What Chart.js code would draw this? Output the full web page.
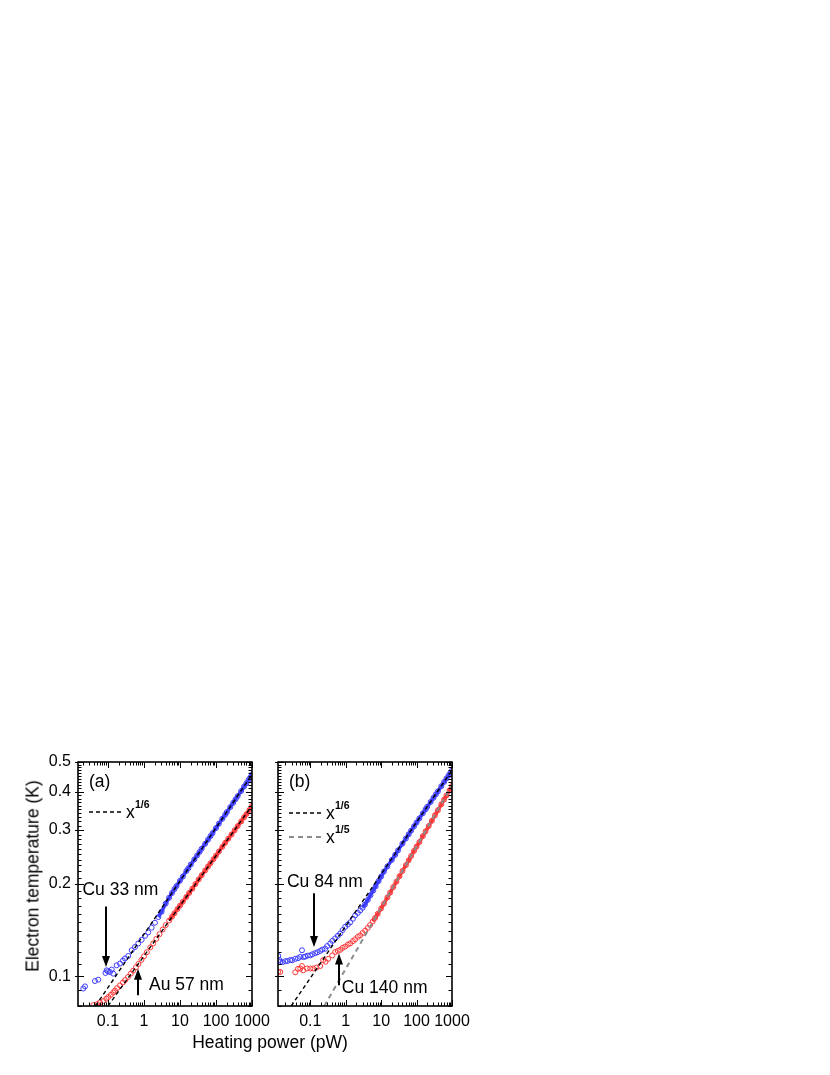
<!DOCTYPE html>
<html>
<head>
<meta charset="utf-8">
<script src="https://cdn.jsdelivr.net/npm/chart.js@4.4.1/dist/chart.umd.min.js"></script>
<style>
  html, body { margin: 0; padding: 0; background: #fff; }
  body { width: 830px; height: 1075px; position: relative; overflow: hidden; font-family: 'Liberation Sans', Arial, sans-serif; }
  .panel { position: absolute; top: 740px; height: 300px; }
  #panelA { left: 0; width: 280px; }
  #panelB { left: 262px; width: 218px; }
  .axis-title { position: absolute; font-size: 17.5px; color: #000; white-space: nowrap; }
  #yTitle { left: 33px; top: 876px; transform: translate(-50%, -50%) rotate(-90deg); }
  #xTitle { left: 270px; top: 1042px; transform: translate(-50%, -50%); }
</style>
</head>
<body>
<div class="panel" id="panelA"><canvas id="chartA" width="280" height="300"></canvas></div>
<div class="panel" id="panelB"><canvas id="chartB" width="218" height="300"></canvas></div>
<div class="axis-title" id="yTitle">Electron temperature (K)</div>
<div class="axis-title" id="xTitle">Heating power (pW)</div>
<script>
// --- Data (power in pW, temperature in K) ---
const xTicks = [0.1, 1, 10, 100, 1000];
const xTickLabels = ['0.1', '1', '10', '100', '1000'];
const yTicks = [0.1, 0.2, 0.3, 0.4, 0.5];
const yTickLabels = ['0.1', '0.2', '0.3', '0.4', '0.5'];

// (a) Cu 33 nm
const powerCu33 = [0.0206, 0.023, 0.0435, 0.0538, 0.085, 0.092, 0.1, 0.1137, 0.127, 0.14, 0.174, 0.215, 0.26, 0.297, 0.366, 0.455, 0.562, 0.695, 0.86, 1.07, 1.31, 1.63, 2.02, 2.5, 3.1, 4, 5, 6, 7, 8, 10, 12, 15, 17, 20, 25, 30, 35, 40, 50, 60, 70, 80, 100, 120, 150, 180, 200, 250, 300, 350, 400, 500, 600, 700, 800, 900, 1000];
const tempCu33 = [0.0912, 0.0927, 0.0965, 0.0975, 0.1025, 0.1046, 0.1038, 0.1033, 0.1052, 0.102, 0.1086, 0.110, 0.1125, 0.1143, 0.1165, 0.1216, 0.1246, 0.128, 0.1315, 0.1355, 0.139, 0.144, 0.1495, 0.156, 0.1625, 0.1725, 0.1805, 0.187, 0.1925, 0.197, 0.205, 0.2115, 0.2205, 0.225, 0.2315, 0.2405, 0.248, 0.2545, 0.2605, 0.2705, 0.279, 0.2865, 0.293, 0.3045, 0.3145, 0.3265, 0.3365, 0.343, 0.3565, 0.368, 0.378, 0.387, 0.402, 0.4155, 0.4265, 0.437, 0.446, 0.4555];

// (a) Au 57 nm
const powerAu57 = [0.039, 0.05, 0.06, 0.075, 0.09, 0.102, 0.12, 0.14, 0.156, 0.18, 0.215, 0.26, 0.3, 0.36, 0.43, 0.5, 0.6, 0.7, 0.85, 1, 1.2, 1.5, 1.8, 2.2, 2.7, 3.3, 4, 5, 6, 7, 8.5, 10, 12, 15, 18, 22, 27, 33, 40, 50, 60, 70, 85, 100, 120, 150, 180, 220, 270, 330, 400, 500, 600, 700, 850, 1000];
const tempAu57 = [0.0805, 0.0812, 0.0822, 0.083, 0.0845, 0.0856, 0.087, 0.0885, 0.0898, 0.0915, 0.0934, 0.0955, 0.0972, 0.0995, 0.102, 0.1043, 0.107, 0.1097, 0.1132, 0.1162, 0.1198, 0.1243, 0.128, 0.1325, 0.1372, 0.142, 0.1468, 0.152, 0.1565, 0.1605, 0.1658, 0.170, 0.175, 0.1815, 0.187, 0.193, 0.200, 0.207, 0.2135, 0.2215, 0.228, 0.2337, 0.241, 0.2475, 0.255, 0.2645, 0.2725, 0.281, 0.290, 0.2995, 0.309, 0.320, 0.330, 0.338, 0.349, 0.360];

// (b) Cu 84 nm
const powerCu84 = [0.0125, 0.0135, 0.0143, 0.0165, 0.0198, 0.023, 0.0273, 0.031, 0.0378, 0.045, 0.0523, 0.0584, 0.065, 0.0723, 0.085, 0.1, 0.115, 0.138, 0.16, 0.191, 0.22, 0.264, 0.3, 0.366, 0.42, 0.506, 0.6, 0.7, 0.82, 0.967, 1.15, 1.34, 1.6, 1.85, 2.2, 2.56, 3, 3.5, 4.2, 5, 6, 7, 8.5, 10, 12, 15, 20, 25, 30, 40, 50, 60, 70, 85, 100, 120, 150, 180, 200, 250, 300, 350, 400, 500, 600, 700, 800, 900, 1000];
const tempCu84 = [0.1165, 0.113, 0.1114, 0.1112, 0.112, 0.1122, 0.113, 0.1128, 0.114, 0.1145, 0.1157, 0.1216, 0.1155, 0.116, 0.1168, 0.117, 0.118, 0.119, 0.1198, 0.121, 0.1222, 0.123, 0.1255, 0.128, 0.1305, 0.133, 0.1355, 0.138, 0.1415, 0.145, 0.1475, 0.150, 0.154, 0.158, 0.161, 0.164, 0.1672, 0.1715, 0.1775, 0.1838, 0.1905, 0.1965, 0.2045, 0.2115, 0.2195, 0.2283, 0.2397, 0.249, 0.2575, 0.2709, 0.2814, 0.2905, 0.2985, 0.3085, 0.3174, 0.3275, 0.340, 0.3505, 0.357, 0.3705, 0.382, 0.392, 0.401, 0.417, 0.4305, 0.442, 0.452, 0.461, 0.4695];

// (b) Cu 140 nm
const powerCu140 = [0.0125, 0.0143, 0.0378, 0.045, 0.0523, 0.0584, 0.0635, 0.0807, 0.1, 0.121, 0.15, 0.191, 0.232, 0.27, 0.321, 0.417, 0.506, 0.6, 0.7, 0.82, 0.967, 1.15, 1.34, 1.6, 1.85, 2.2, 2.56, 3, 3.54, 4.2, 4.89, 5.8, 6.76, 8, 10, 12, 15, 18, 22, 27, 33, 40, 50, 60, 70, 85, 100, 120, 150, 180, 220, 270, 330, 400, 500, 600, 700, 850, 1000];
const tempCu140 = [0.1035, 0.1033, 0.103, 0.1058, 0.106, 0.108, 0.1046, 0.106, 0.106, 0.106, 0.1068, 0.108, 0.113, 0.1115, 0.114, 0.117, 0.120, 0.121, 0.122, 0.1238, 0.125, 0.1268, 0.128, 0.1302, 0.132, 0.1345, 0.136, 0.1385, 0.141, 0.1438, 0.147, 0.151, 0.155, 0.1598, 0.1665, 0.1725, 0.1808, 0.1875, 0.1955, 0.2035, 0.212, 0.2205, 0.2305, 0.239, 0.2465, 0.2565, 0.2648, 0.274, 0.2865, 0.297, 0.309, 0.3215, 0.335, 0.348, 0.364, 0.3775, 0.389, 0.404, 0.4175];

// power-law guide lines (end points)
const fitPowerA1 = [0.045, 1000], fitTempA1 = [0.08, 0.455];   // x^1/6, Cu 33 nm
const fitPowerA2 = [0.1, 1000],   fitTempA2 = [0.08, 0.36];    // x^1/6, Au 57 nm
const fitPowerB1 = [0.0291, 1000], fitTempB1 = [0.08, 0.47];   // x^1/6
const fitPowerB2 = [0.248, 1000],  fitTempB2 = [0.08, 0.42];   // x^1/5

const BLUE = 'rgb(60, 60, 255)';
const RED = 'rgb(255, 55, 55)';
const FONT = "'Liberation Sans', Arial, sans-serif";

const toXY = (xs, ys) => xs.map((v, i) => ({ x: v, y: ys[i] }));

// hollow circles; where the points crowd together a thick trace fills the gaps
function pointSeries(xs, ys, color, bandFrom) {
    return {
        data: toXY(xs, ys),
        showLine: true,
        borderWidth: 3.5,
        borderColor: color,
        segment: { borderColor: c => c.p0.parsed.x >= bandFrom ? color : 'rgba(0,0,0,0)' },
        pointRadius: 2.5,
        pointBorderWidth: 1,
        pointBorderColor: color,
        pointBackgroundColor: 'rgba(255,255,255,0)',
        tension: 0
    };
}

function fitLine(xs, ys, color, width, dash) {
    return {
        data: toXY(xs, ys),
        showLine: true,
        borderColor: color,
        borderWidth: width,
        borderDash: dash,
        pointRadius: 0,
        tension: 0
    };
}

// --- frame with inward ticks on all four sides ---
const frameTicks = {
    id: 'frameTicks',
    afterDatasetsDraw(chart) {
        const { ctx, chartArea: a, scales: { x, y } } = chart;
        ctx.save();
        ctx.strokeStyle = '#000';
        ctx.lineWidth = 1;
        const seg = (x0, y0, x1, y1) => { ctx.beginPath(); ctx.moveTo(x0, y0); ctx.lineTo(x1, y1); ctx.stroke(); };
        for (let e = -2; e <= 3; e++) {
            for (let m = 1; m <= 9; m++) {
                const v = m * Math.pow(10, e);
                if (v < x.min || v > x.max) continue;
                const px = Math.round(x.getPixelForValue(v)) + 0.5;
                const len = m === 1 ? 6 : 3.5;
                seg(px, a.bottom, px, a.bottom - len);
                seg(px, a.top, px, a.top + len);
            }
        }
        for (let k = 8; k <= 50; k++) {
            const v = k / 100;
            const py = Math.round(y.getPixelForValue(v)) + 0.5;
            const major = k % 10 === 0;
            const len = major ? 6 : 3.5;
            seg(a.left - (major ? 3 : 0), py, a.left + len, py);
            seg(a.right, py, a.right - len, py);
        }
        ctx.lineWidth = 1.6;
        ctx.strokeRect(a.left, a.top, a.right - a.left, a.bottom - a.top);
        ctx.restore();
    }
};

// --- panel letter, legend, labels and arrows ---
const notes = {
    id: 'notes',
    afterDraw(chart, args, opts) {
        const { ctx, chartArea: a, scales: { x, y } } = chart;
        ctx.save();
        ctx.fillStyle = '#000';
        ctx.textBaseline = 'middle';
        ctx.textAlign = 'left';
        ctx.font = '17.5px ' + FONT;
        ctx.fillText(opts.letter, a.left + 11, a.top + 20);

        opts.legend.forEach(l => {
            const ly = a.top + l.dy;
            ctx.save();
            ctx.strokeStyle = l.color;
            ctx.lineWidth = l.width;
            ctx.setLineDash(l.dash);
            ctx.beginPath();
            ctx.moveTo(a.left + 11, ly);
            ctx.lineTo(a.left + 45, ly);
            ctx.stroke();
            ctx.restore();
            ctx.font = '17.5px ' + FONT;
            ctx.fillText('x', a.left + 48, ly + 1);
            ctx.font = 'bold 10.5px ' + FONT;
            ctx.fillText(l.sup, a.left + 57, ly - 7);
        });

        ctx.font = '17.5px ' + FONT;
        opts.texts.forEach(t => {
            ctx.fillText(t.text, x.getPixelForValue(t.x), y.getPixelForValue(t.y));
        });

        opts.arrows.forEach(r => {
            const px = Math.round(x.getPixelForValue(r.x));
            const p0 = y.getPixelForValue(r.from);
            const p1 = y.getPixelForValue(r.to);
            const dir = p1 > p0 ? 1 : -1;
            ctx.lineWidth = 2;
            ctx.strokeStyle = '#000';
            ctx.beginPath();
            ctx.moveTo(px, p0);
            ctx.lineTo(px, p1 - dir * 8);
            ctx.stroke();
            ctx.beginPath();
            ctx.moveTo(px, p1);
            ctx.lineTo(px - 4, p1 - dir * 11);
            ctx.lineTo(px + 4, p1 - dir * 11);
            ctx.closePath();
            ctx.fill();
        });
        ctx.restore();
    }
};

function makePanel(id, cfg) {
    return new Chart(document.getElementById(id), {
        type: 'scatter',
        data: { datasets: cfg.datasets },
        options: {
            responsive: false,
            animation: false,
            events: [],
            devicePixelRatio: 1,
            layout: { padding: { top: 22, right: 28, bottom: 0, left: 0 } },
            plugins: { legend: { display: false }, tooltip: { enabled: false }, notes: cfg.notes },
            scales: {
                x: {
                    type: 'logarithmic',
                    min: cfg.xMin,
                    max: 1000,
                    grid: { display: false, drawTicks: false },
                    border: { display: false },
                    afterBuildTicks: s => { s.ticks = xTicks.map(v => ({ value: v })); },
                    afterFit: s => { s.height = 34; },
                    ticks: {
                        color: '#000',
                        font: { family: FONT, size: 16 },
                        padding: 6,
                        maxRotation: 0,
                        autoSkip: false,
                        callback: v => xTickLabels[xTicks.indexOf(v)]
                    }
                },
                y: {
                    type: 'logarithmic',
                    min: 0.08,
                    max: 0.5,
                    grid: { display: false, drawTicks: false },
                    border: { display: false },
                    afterBuildTicks: s => { s.ticks = yTicks.map(v => ({ value: v })); },
                    afterFit: s => { s.width = cfg.yWidth; },
                    ticks: {
                        display: cfg.yLabels,
                        color: '#000',
                        font: { family: FONT, size: 16 },
                        padding: 7,
                        autoSkip: false,
                        callback: v => yTickLabels[yTicks.indexOf(v)]
                    }
                }
            }
        },
        plugins: [frameTicks, notes]
    });
}

makePanel('chartA', {
    xMin: 0.0147,
    yWidth: 78,
    yLabels: true,
    datasets: [
        fitLine(fitPowerA1, fitTempA1, '#000', 1.4, [4, 3]),
        fitLine(fitPowerA2, fitTempA2, '#000', 1.4, [4, 3]),
        pointSeries(powerCu33, tempCu33, BLUE, 2.4),
        pointSeries(powerAu57, tempAu57, RED, 5)
    ],
    notes: {
        letter: '(a)',
        legend: [{ dy: 50, color: '#000', width: 1.4, dash: [4, 3], sup: '1/6' }],
        texts: [{ text: 'Cu 33 nm', x: 0.0195, y: 0.191 }, { text: 'Au 57 nm', x: 1.38, y: 0.0935 }],
        arrows: [{ x: 0.088, from: 0.169, to: 0.1072 }, { x: 0.67, from: 0.0867, to: 0.1059 }]
    }
});

makePanel('chartB', {
    xMin: 0.0123,
    yWidth: 16,
    yLabels: false,
    datasets: [
        fitLine(fitPowerB1, fitTempB1, '#000', 1.4, [4, 3]),
        fitLine(fitPowerB2, fitTempB2, '#8c8c8c', 2, [5, 4]),
        pointSeries(powerCu84, tempCu84, BLUE, 3),
        pointSeries(powerCu140, tempCu140, RED, 5)
    ],
    notes: {
        letter: '(b)',
        legend: [
            { dy: 51, color: '#000', width: 1.4, dash: [4, 3], sup: '1/6' },
            { dy: 75, color: '#8c8c8c', width: 2, dash: [5, 4], sup: '1/5' }
        ],
        texts: [{ text: 'Cu 84 nm', x: 0.022, y: 0.203 }, { text: 'Cu 140 nm', x: 0.78, y: 0.0914 }],
        arrows: [{ x: 0.1296, from: 0.1867, to: 0.1247 }, { x: 0.627, from: 0.0935, to: 0.1186 }]
    }
});
</script>
</body>
</html>
